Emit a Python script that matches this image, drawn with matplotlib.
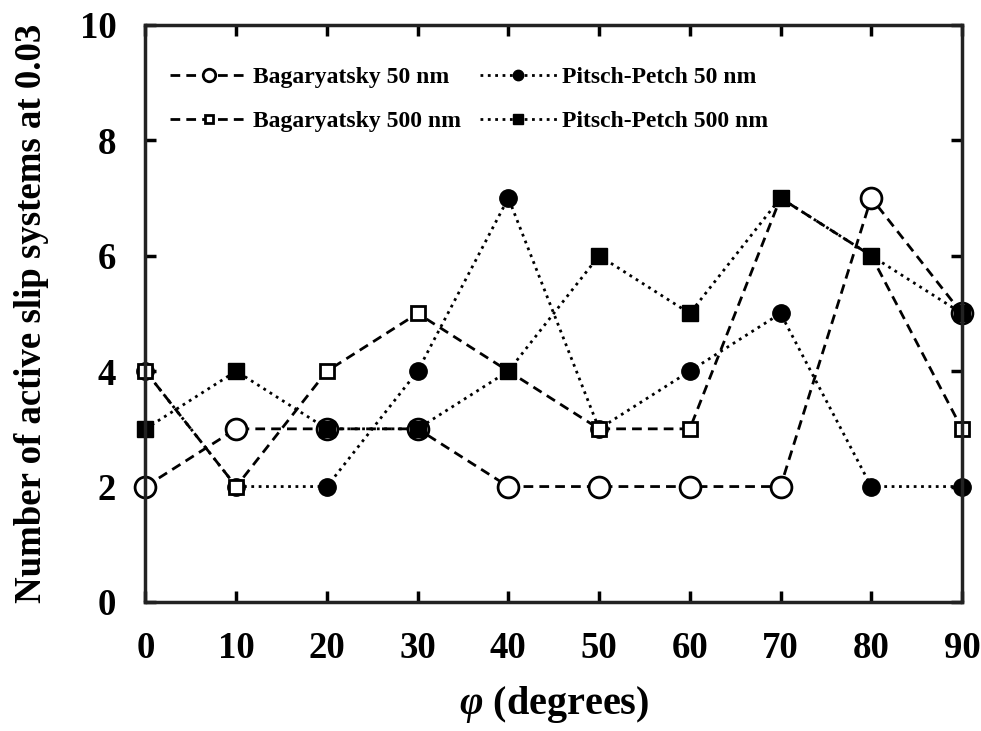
import matplotlib.pyplot as plt

plt.rcParams['font.family'] = ['Liberation Serif', 'DejaVu Serif']
plt.rcParams['font.weight'] = 'bold'
plt.rcParams['mathtext.fontset'] = 'custom'
plt.rcParams['mathtext.it'] = 'Liberation Serif:italic:bold'

# data
phi = [0, 10, 20, 30, 40, 50, 60, 70, 80, 90]
bag_50 = [2, 3, 3, 3, 2, 2, 2, 2, 7, 5]
pp_50 = [4, 2, 2, 4, 7, 3, 4, 5, 2, 2]
bag_500 = [4, 2, 4, 5, 4, 3, 3, 7, 6, 3]
pp_500 = [3, 4, 3, 3, 4, 6, 5, 7, 6, 5]

fig = plt.figure(figsize=(9.81, 7.31), dpi=100)
ax = fig.add_axes([0.1483, 0.1765, 0.8323, 0.7895])

# order matters for which marker sits on top
l1, = ax.plot(phi, bag_50, linestyle='--', dashes=(3.5, 2.2), color='black', lw=2.0,
              marker='o', ms=15, mfc='white', mec='black', mew=2.0,
              label='Bagaryatsky 50 nm', clip_on=False)
l2, = ax.plot(phi, pp_50, linestyle=':', color='black', lw=2.0,
              marker='o', ms=12.5, mfc='black', mec='black',
              label='Pitsch-Petch 50 nm', clip_on=False)
l3, = ax.plot(phi, bag_500, linestyle='--', dashes=(3.5, 2.2), color='black', lw=2.0,
              marker='s', ms=10, mfc='white', mec='black', mew=2.0,
              label='Bagaryatsky 500 nm', clip_on=False)
l4, = ax.plot(phi, pp_500, linestyle=':', color='black', lw=2.0,
              marker='s', ms=12, mfc='black', mec='black',
              label='Pitsch-Petch 500 nm', clip_on=False)

ax.set_xlim(0, 90)
ax.set_ylim(0, 10)
ax.set_xticks(range(0, 91, 10))
ax.set_yticks(range(0, 11, 2))

for s in ax.spines.values():
    s.set_linewidth(2.5)
    s.set_color('#222222')

ax.tick_params(direction='in', length=8, width=2.5, top=True, right=True,
               labelsize=26.5, pad=21)
for lab in ax.get_xticklabels() + ax.get_yticklabels():
    lab.set_fontweight('bold')

ax.set_xlabel(r'$\varphi$ (degrees)', fontsize=29, fontweight='bold', labelpad=13)
ax.set_ylabel('Number of active slip systems at 0.03', fontsize=26.5,
              fontweight='bold', labelpad=22)

leg = ax.legend(handles=[l1, l3, l2, l4], ncol=2, loc='upper left',
                frameon=False, fontsize=17, markerscale=0.6,
                handlelength=3.3, columnspacing=0.8, labelspacing=0.95,
                handletextpad=0.2, bbox_to_anchor=(0.004, 0.965))
for t in leg.get_texts():
    t.set_fontweight('bold')

fig.savefig('out.png', dpi=100)
